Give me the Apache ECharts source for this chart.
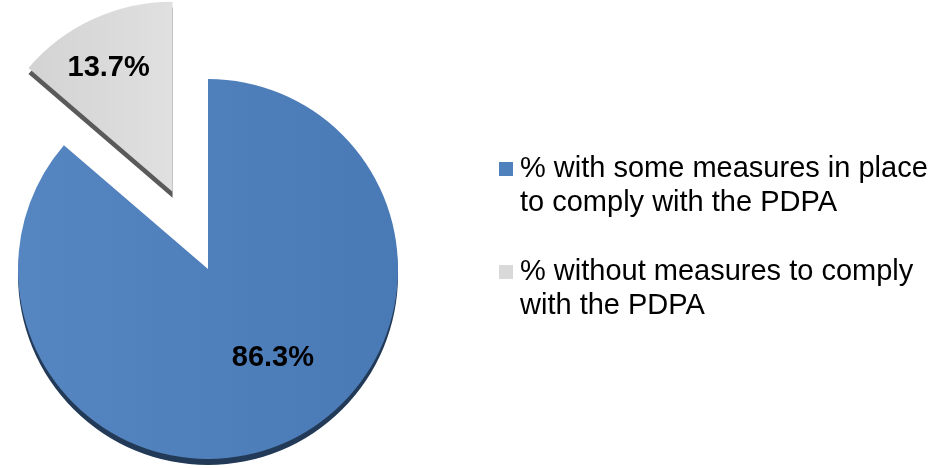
<!DOCTYPE html>
<html>
<head>
<meta charset="utf-8">
<title>PDPA compliance measures</title>
<script src="https://cdn.jsdelivr.net/npm/echarts@6/dist/echarts.min.js"></script>
<style>
  html, body { margin: 0; padding: 0; background: #ffffff; }
  #chart { width: 937px; height: 468px; }
</style>
</head>
<body>
<div id="chart"></div>
<script>
// Share of organisations by PDPA compliance status (percent)
const categories = [
  '% with some measures in place to comply with the PDPA',
  '% without measures to comply with the PDPA'
];
const shares = [86.3, 13.7];

// Face and side colours of each slice
const faceColors = [
  { light: '#5686c1', dark: '#4a7ab6' },
  { light: '#d3d3d3', dark: '#e0e0e0' }
];
const sideColors = ['#223a58', '#5a5a5a'];

const FONT = '"Liberation Sans", Arial, Helvetica, sans-serif';
const CENTER = [208, 269];
const RADIUS = 190;
const DEPTH = 6;
const EXPLODE = 85;

// label nudges from the default inside position, per slice
const labelShift = [[24, 0], [-23, -35]];

const chart = echarts.init(document.getElementById('chart'), null, { renderer: 'canvas' });

function sliceData(colorFn) {
  return categories.map((name, i) => ({
    name: name,
    value: shares[i],
    selected: i === 1,
    itemStyle: { color: colorFn(i), borderWidth: 0 }
  }));
}

const option = {
  backgroundColor: '#ffffff',
  animation: false,
  legend: {
    orient: 'vertical',
    left: 499,
    top: 118,
    padding: 0,
    itemGap: 1,
    itemWidth: 14,
    itemHeight: 14,
    icon: 'rect',
    selectedMode: false,
    // a leading blank line keeps the marker level with the first text line
    formatter: name => '\n' + name,
    data: categories.map((name, i) => ({
      name: name,
      itemStyle: { color: i === 0 ? '#4f81bd' : '#d9d9d9' }
    })),
    textStyle: {
      fontFamily: FONT,
      fontSize: 29,
      lineHeight: 34,
      color: '#000000',
      width: 420,
      overflow: 'break',
      padding: [0, 0, 0, 2]
    }
  },
  series: [
    {
      // top face of the pie
      name: 'faces',
      type: 'pie',
      z: 3,
      center: CENTER,
      radius: [0, RADIUS],
      startAngle: 90,
      clockwise: true,
      selectedMode: 'single',
      selectedOffset: EXPLODE,
      silent: true,
      emphasis: { disabled: true },
      label: {
        show: true,
        position: 'inside',
        formatter: '{c}%',
        fontFamily: FONT,
        fontSize: 29,
        fontWeight: 'bold',
        color: '#000000'
      },
      labelLine: { show: false },
      labelLayout: function (params) {
        const s = labelShift[params.dataIndex] || [0, 0];
        return { dx: s[0], dy: s[1] };
      },
      data: sliceData(i => ({
        type: 'linear', x: 0, y: 0, x2: 1, y2: 0,
        colorStops: [
          { offset: 0, color: faceColors[i].light },
          { offset: 1, color: faceColors[i].dark }
        ]
      }))
    },
    {
      // side wall, drawn behind the faces a few pixels lower
      name: 'sides',
      type: 'pie',
      z: 2,
      center: [CENTER[0], CENTER[1] + DEPTH],
      radius: [0, RADIUS],
      startAngle: 90,
      clockwise: true,
      selectedMode: 'single',
      selectedOffset: EXPLODE,
      silent: true,
      emphasis: { disabled: true },
      label: { show: false },
      labelLine: { show: false },
      data: sliceData(i => sideColors[i])
    }
  ]
};

chart.setOption(option);
</script>
</body>
</html>
